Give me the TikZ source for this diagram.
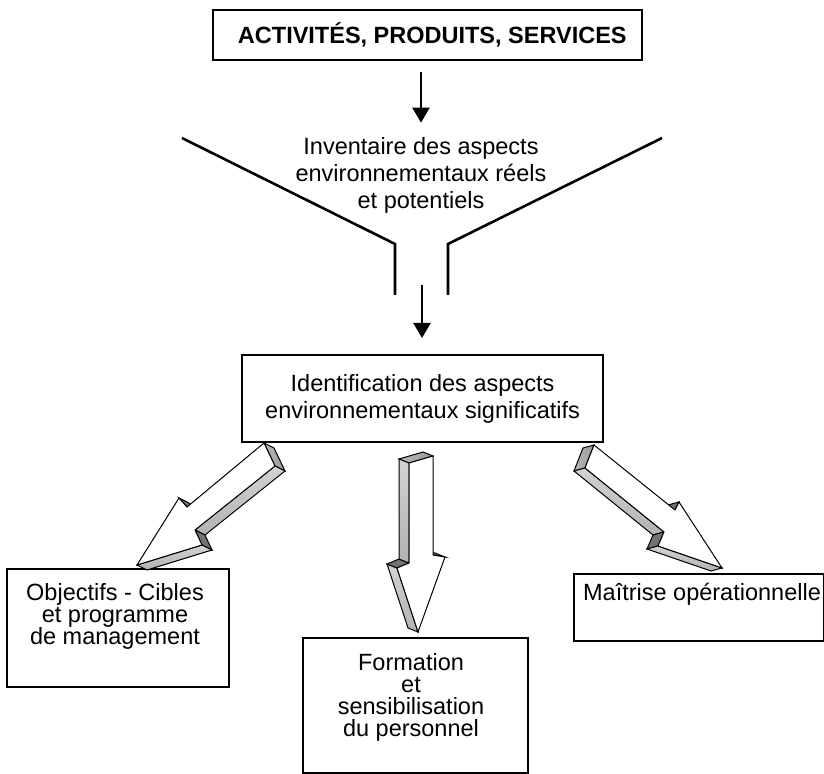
\documentclass[tikz,border=0pt]{standalone}
\usepackage{fontspec}
\setmainfont{Liberation Sans}
\usetikzlibrary{arrows.meta}

\begin{document}
\begin{tikzpicture}%
	[x=0.5pt, y=-0.5pt,
	frame/.style={draw, line width=1.1pt, inner sep=0pt, anchor=north west},
	txt/.style={align=center, inner sep=0pt, font=\fontsize{11.75}{13.5}\selectfont},
	tighttxt/.style={txt, font=\fontsize{11.75}{11}\selectfont},
	flow/.style={line width=1.2pt, -{Triangle[length=7.5pt,width=8.5pt]}},
	funnel/.style={line width=1.3pt},
	front/.style={draw, fill=white, line width=0.5pt},
	side/.style={draw, line width=0.5pt, top color=gray!35, bottom color=gray!60},
	tail/.style={draw, line width=0.5pt, left color=gray!55, right color=gray!80},
	notch/.style={draw, fill=gray!110, line width=0.5pt},
	lback/.style={shift={(10,5)}},
	mback/.style={shift={(-10,-4)}},
	rback/.style={shift={(-11,3)}}]
%
\useasboundingbox (0,0) rectangle (824,774);
%%
%% Boxes and texts
%%
\node[frame, line width=0.8pt, minimum width=214.5pt, minimum height=25pt,
	font=\fontsize{11.75}{13.5}\selectfont\bfseries] (act) at (212,9)
	{\hspace*{5pt}ACTIVITÉS, PRODUITS, SERVICES};
\node[txt] (inv) at (421,175) {Inventaire des aspects\\environnementaux réels\\et potentiels};
\node[frame, minimum width=180.5pt, minimum height=43.5pt, align=center,
	font=\fontsize{11.75}{13.5}\selectfont] (ident) at (241,354)
	{Identification des aspects\\environnementaux significatifs};
\node[frame, minimum width=111pt, minimum height=59pt] (obj) at (6,568) {};
\node[tighttxt] (objtxt) at (115,616) {Objectifs - Cibles\\et programme\\de management};
\node[frame, minimum width=112.5pt, minimum height=67.5pt] (form) at (302,637) {};
\node[tighttxt] (formtxt) at (411,697) {Formation\\et\\sensibilisation\\du personnel};
\node[frame, minimum width=125pt, minimum height=33.5pt] (mait) at (573,573) {};
\node[txt] (maittxt) at (702,594) {Maîtrise opérationnelle};
%%
%% Funnel
%%
\coordinate (fl1) at (182,138);
\coordinate (fl2) at (395,244);
\coordinate (fl3) at (395,295);
\coordinate (fr1) at (662,138);
\coordinate (fr2) at (448,244);
\coordinate (fr3) at (448,295);
\draw[funnel] (fl1) -- (fl2) -- (fl3);
\draw[funnel] (fr1) -- (fr2) -- (fr3);
%%
%% Thin arrows
%%
\draw[flow, shorten <=5.5pt, shorten >=7pt] (act.south -| inv.north) -- (inv.north);
\coordinate (drop) at (422,285);
\draw[flow, shorten >=8pt] (drop) -- (drop |- ident.north);
%%
%% Left block arrow
%%
\coordinate (l1) at (264,443);
\coordinate (l2) at (187,507);
\coordinate (l3) at (179,498);
\coordinate (l4) at (137,565);
\coordinate (l5) at (202,545);
\coordinate (l6) at (195,530);
\coordinate (l7) at (275,466);
\path[tail]  (l7) -- (l1) -- ([lback]l1) -- ([lback]l7) -- cycle;
\path[side]  (l6) -- (l7) -- ([lback]l7) -- ([lback]l6) -- cycle;
\path[notch] (l5) -- (l6) -- ([lback]l6) -- ([lback]l5) -- cycle;
\path[side]  (l4) -- (l5) -- ([lback]l5) -- ([lback]l4) -- cycle;
\path[notch] (l2) -- (l3) -- ([lback]l3) -- ([lback]l2) -- cycle;
\path[front] (l1) -- (l2) -- (l3) -- (l4) -- (l5) -- (l6) -- (l7) -- cycle;
%%
%% Middle block arrow
%%
\coordinate (m1) at (409,463);
\coordinate (m2) at (433,456);
\coordinate (m3) at (433,555);
\coordinate (m4) at (445,557);
\coordinate (m5) at (418,632);
\coordinate (m6) at (397,568);
\coordinate (m7) at (409,563);
\path[tail]  (m1) -- (m2) -- ([mback]m2) -- ([mback]m1) -- cycle;
\path[notch] (m3) -- (m4) -- ([mback]m4) -- ([mback]m3) -- cycle;
\path[side]  (m5) -- (m6) -- ([mback]m6) -- ([mback]m5) -- cycle;
\path[notch] (m6) -- (m7) -- ([mback]m7) -- ([mback]m6) -- cycle;
\path[side]  (m7) -- (m1) -- ([mback]m1) -- ([mback]m7) -- cycle;
\path[front] (m1) -- (m2) -- (m3) -- (m4) -- (m5) -- (m6) -- (m7) -- cycle;
%%
%% Right block arrow
%%
\coordinate (r1) at (594,445);
\coordinate (r2) at (675,510);
\coordinate (r3) at (679,502);
\coordinate (r4) at (722,568);
\coordinate (r5) at (658,546);
\coordinate (r6) at (664,532);
\coordinate (r7) at (585,468);
\path[tail]  (r7) -- (r1) -- ([rback]r1) -- ([rback]r7) -- cycle;
\path[side]  (r6) -- (r7) -- ([rback]r7) -- ([rback]r6) -- cycle;
\path[notch] (r5) -- (r6) -- ([rback]r6) -- ([rback]r5) -- cycle;
\path[side]  (r4) -- (r5) -- ([rback]r5) -- ([rback]r4) -- cycle;
\path[notch] (r2) -- (r3) -- ([rback]r3) -- ([rback]r2) -- cycle;
\path[front] (r1) -- (r2) -- (r3) -- (r4) -- (r5) -- (r6) -- (r7) -- cycle;
%%
\end{tikzpicture}
\end{document}
